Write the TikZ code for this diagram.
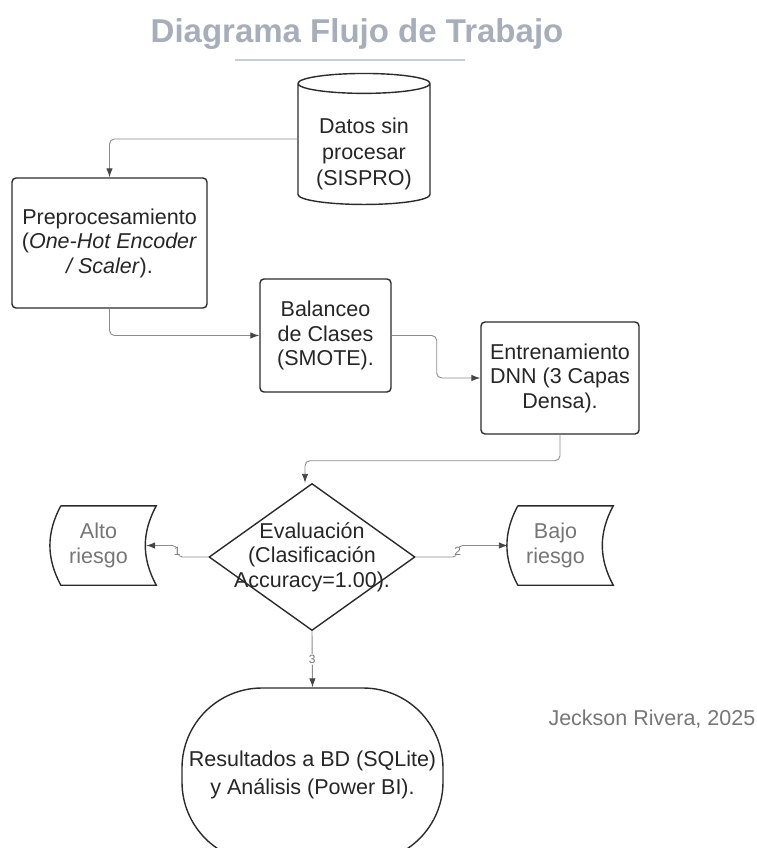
\documentclass[tikz,border=0pt]{standalone}
\usepackage{fontspec}
\setmainfont{Liberation Sans}
\usetikzlibrary{shapes.geometric,arrows.meta}
\definecolor{titlegray}{HTML}{A7AEBA}
\definecolor{rulegray}{HTML}{C9CDD3}
\definecolor{linegray}{HTML}{8C8C8C}
\definecolor{tipgray}{HTML}{454545}
\definecolor{edgegray}{HTML}{2B2B2B}
\definecolor{softgray}{HTML}{767676}
\begin{document}
\begin{tikzpicture}[x=1pt,y=-1pt,>={Latex[length=9,width=6.5,color=tipgray]},
  every node/.style={font=\fontsize{21.5}{24.5}\selectfont,align=center,text=black!85},
  edge/.style={draw=edgegray,line width=1.4pt},
  box/.style={edge,rounded corners=4pt,inner sep=2pt},
  db/.style={edge,cylinder,shape border rotate=90,aspect=0.2,minimum width=132,minimum height=131,inner sep=2pt},
  decision/.style={edge,diamond,minimum width=206,minimum height=147,inner sep=0pt},
  store/.style={minimum width=95,minimum height=79,inner sep=0pt,text=softgray},
  terminal/.style={edge,rounded corners=80pt,minimum width=261,minimum height=174,inner sep=0pt,font=\fontsize{21.5}{28}\selectfont},
  flow/.style={draw=linegray,line width=0.9pt,rounded corners=5pt,->},
  lbl/.style={font=\fontsize{12}{12}\selectfont,text=softgray,fill=white,inner sep=1pt}]
\useasboundingbox (0,0) rectangle (757,848);
% title
\node[font=\fontsize{33}{36}\selectfont\bfseries,text=titlegray,anchor=base] (title) at (357,43) {Diagrama Flujo de Trabajo};
\draw[rulegray,line width=1.2pt] (235,60) -- (465,60);
% steps
\node[db,label={[yshift=-8pt,font=\fontsize{21.5}{26}\selectfont]center:{Datos sin\\procesar\\(SISPRO)}}] (datos) at (364,145.5)
  {\phantom{\begin{tabular}{@{}c@{}}Datos sin\\procesar\\(SISPRO)\end{tabular}}};
\node[box,minimum width=195,minimum height=130] (pre) at (109.5,243) {Preprocesamiento\\(\textit{One-Hot Encoder}\\\textit{/ Scaler}).};
\node[box,minimum width=131,minimum height=113] (bal) at (325.5,335.5) {Balanceo\\de Clases\\(SMOTE).};
\node[box,minimum width=158,minimum height=112] (ent) at (560,378) {Entrenamiento\\DNN (3 Capas\\Densa).};
\node[decision,label={center:{Evaluación\\(Clasificación\\Accuracy=1.00).}}] (eval) at (312,557) {};
\node[store] (alto) at (98.5,545.5) {Alto\\riesgo};
\node[store] (bajo) at (555.5,545.5) {Bajo\\riesgo};
\node[terminal] (res) at (312.5,775) {Resultados a BD (SQLite)\\y Análisis (Power BI).};
\node[anchor=base west,text=softgray] (autor) at (545,725) {Jeckson Rivera, 2025};
% stored data outlines
\foreach \s in {alto,bajo}
  \draw[edge] ([xshift=10]\s.north west) -- ([xshift=10]\s.north east)
    to[bend right=28] ([xshift=10]\s.south east) -- ([xshift=10]\s.south west)
    to[bend left=28] ([xshift=10]\s.north west);
% connectors
\draw[flow] ([yshift=6.5pt]datos.west) -| (pre.north);
\draw[flow] (pre.south) |- (bal.west);
\draw[flow] (bal.east) -- ++(45,0) |- (ent.west);
\draw[flow] (ent.south) -- ++(0,26) -| ([xshift=-7]eval.north);
\draw[flow] (eval.west) -- ++(-31,0) |- node[pos=0.25,lbl]{1} (alto.east);
\draw[flow] (eval.east) -- ++(42,0) |- node[pos=0.25,lbl]{2} (bajo.west);
\draw[flow] (eval.south) -- node[lbl]{3} (res.north);
\end{tikzpicture}
\end{document}
